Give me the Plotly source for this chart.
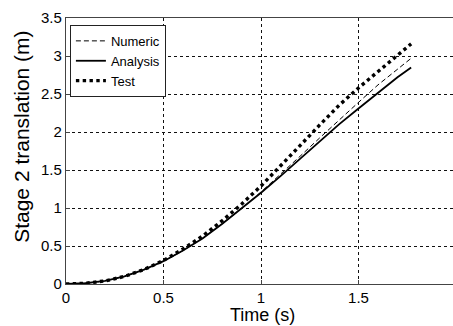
import plotly.graph_objects as go

# Time samples (s)
t = [0.0, 0.1, 0.2, 0.3, 0.4, 0.5, 0.6, 0.7, 0.8, 0.9, 1.0,
     1.1, 1.2, 1.3, 1.4, 1.5, 1.6, 1.7, 1.77]

# Stage 2 translation (m)
numeric = [0.0, 0.01, 0.04, 0.1, 0.19, 0.3, 0.44, 0.6, 0.79, 0.99, 1.21,
           1.44, 1.68, 1.92, 2.16, 2.39, 2.62, 2.83, 2.97]
analysis = [0.0, 0.01, 0.04, 0.1, 0.19, 0.3, 0.44, 0.6, 0.79, 0.99, 1.2,
            1.42, 1.65, 1.88, 2.1, 2.31, 2.52, 2.72, 2.85]
test = [0.0, 0.01, 0.04, 0.1, 0.19, 0.31, 0.46, 0.63, 0.83, 1.05, 1.29,
        1.55, 1.82, 2.09, 2.35, 2.58, 2.8, 3.01, 3.16]

x_ticks = [0, 0.5, 1, 1.5, 2]
x_tick_text = ["0", "0.5", "1", "1.5", "2"]
y_ticks = [0, 0.5, 1, 1.5, 2, 2.5, 3, 3.5]
y_tick_text = ["0", "0.5", "1", "1.5", "2", "2.5", "3", "3.5"]

font_family = "Liberation Sans, Arial, sans-serif"

fig = go.Figure()
fig.add_trace(go.Scatter(x=t, y=numeric, name="Numeric", mode="lines",
                         line=dict(color="black", width=1, dash="5px,3px")))
fig.add_trace(go.Scatter(x=t, y=analysis, name="Analysis", mode="lines",
                         line=dict(color="black", width=1.8)))
fig.add_trace(go.Scatter(x=t, y=test, name="Test", mode="lines",
                         line=dict(color="black", width=3.4, dash="dot")))

axis_common = dict(
    showline=True, linecolor="#444", linewidth=1.2, mirror=True,
    showgrid=True, gridcolor="#111", griddash="dot", gridwidth=1,
    ticks="inside", ticklen=4, tickcolor="#444",
    zeroline=False, tickfont=dict(family=font_family, size=15, color="black"),
)

fig.update_layout(
    width=456, height=326,
    margin=dict(l=66, r=0, t=18, b=42),
    paper_bgcolor="white", plot_bgcolor="white",
    font=dict(family=font_family, color="black"),
    showlegend=True,
    legend=dict(x=0.01, y=0.974, xanchor="left", yanchor="top",
                bgcolor="white", bordercolor="#222", borderwidth=1,
                font=dict(family=font_family, size=13, color="black"),
                tracegroupgap=0, itemwidth=30),
    xaxis=dict(range=[0, 2], tickvals=x_ticks, ticktext=x_tick_text,
               **axis_common),
    yaxis=dict(range=[0, 3.5], tickvals=y_ticks, ticktext=y_tick_text,
               **axis_common),
    annotations=[
        dict(text="Stage 2 translation (m)", textangle=-90,
             xref="paper", yref="paper", x=-0.113, y=0.553,
             xanchor="center", yanchor="middle", showarrow=False,
             font=dict(family=font_family, size=21, color="black")),
        dict(text="Time (s)",
             xref="paper", yref="paper", x=0.505, y=-0.117,
             xanchor="center", yanchor="middle", showarrow=False,
             font=dict(family=font_family, size=18, color="black")),
    ],
)

# The figure is slightly wider than the page; keep the page free of scrollbars.
fig.write_html("out.html",
               post_script="document.body.style.overflow='hidden';"
                           "document.documentElement.style.overflow='hidden';")
